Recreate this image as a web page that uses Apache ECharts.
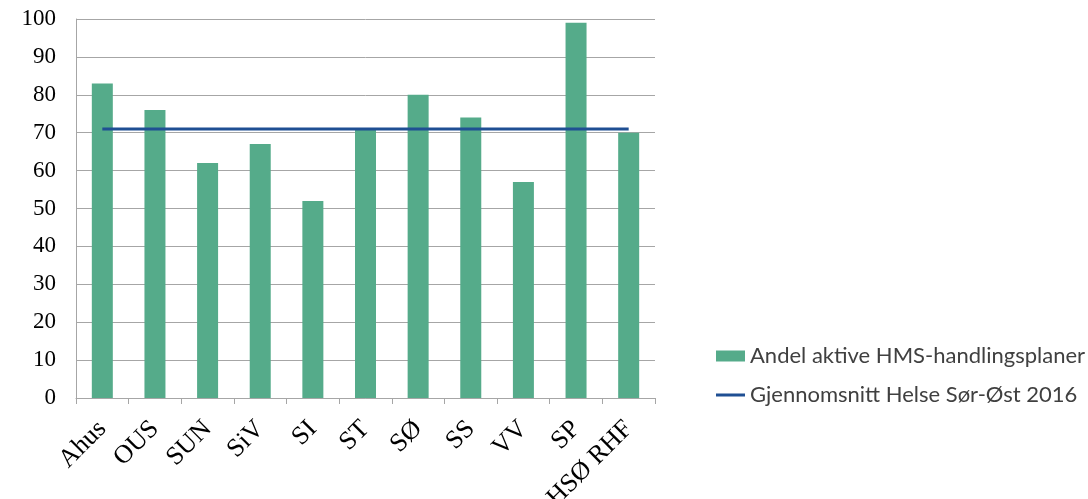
<!DOCTYPE html>
<html>
<head>
<meta charset="utf-8">
<script src="https://cdn.jsdelivr.net/npm/echarts@6/dist/echarts.min.js"></script>
<style>
  html, body { margin: 0; padding: 0; background: #fff; }
  #chart { width: 1088px; height: 499px; }
</style>
</head>
<body>
<div id="chart"></div>
<script>
// Helseforetak (categories) and share of active HMS action plans (%)
const categories = ['Ahus', 'OUS', 'SUN', 'SiV', 'SI', 'ST', 'SØ', 'SS', 'VV', 'SP', 'HSØ RHF'];
const andelAktive = [83, 76, 62, 67, 52, 71, 80, 74, 57, 99, 70];
// Regional average 2016, drawn as a flat line across all categories
const gjennomsnitt = 71;
const gjennomsnittLinje = categories.map(() => gjennomsnitt);
const yTicks = { min: 0, max: 100, interval: 10 };

const barName = 'Andel aktive HMS-handlingsplaner';
const lineName = 'Gjennomsnitt Helse Sør-Øst 2016';

const legendText = { fontFamily: 'Lato', fontSize: 22, color: '#404040' };

const chart = echarts.init(document.getElementById('chart'), null, { renderer: 'canvas' });
chart.setOption({
  animation: false,
  grid: {
    left: 76, right: 433, top: 19, bottom: 101,
    containLabel: false, outerBoundsMode: 'none'
  },
  legend: [
    {
      orient: 'vertical', left: 716, top: 345, padding: 0,
      itemWidth: 29, itemHeight: 11,
      icon: 'rect',
      data: [barName],
      textStyle: legendText
    },
    {
      orient: 'vertical', left: 716, top: 384, padding: 0,
      itemWidth: 29, itemHeight: 3,
      icon: 'rect',
      data: [lineName],
      textStyle: legendText
    }
  ],
  xAxis: {
    type: 'category',
    data: categories,
    boundaryGap: true,
    axisLine: { lineStyle: { color: '#a6a6a6', width: 1 } },
    axisTick: { show: true, alignWithLabel: false, length: 6, lineStyle: { color: '#a6a6a6' } },
    axisLabel: {
      rotate: 45, margin: 27, interval: 0,
      fontFamily: 'Liberation Serif', fontSize: 26, color: '#000'
    }
  },
  yAxis: {
    type: 'value',
    min: yTicks.min, max: yTicks.max, interval: yTicks.interval,
    axisLine: { show: true, lineStyle: { color: '#a6a6a6', width: 1 } },
    axisTick: { show: false },
    splitLine: { lineStyle: { color: '#a6a6a6', width: 1 } },
    axisLabel: { margin: 20, fontFamily: 'Liberation Serif', fontSize: 23, color: '#000' }
  },
  series: [
    {
      name: barName,
      type: 'bar',
      data: andelAktive,
      barWidth: 21,
      itemStyle: { color: '#55ab8a' }
    },
    {
      name: lineName,
      type: 'line',
      data: gjennomsnittLinje,
      symbol: 'none',
      lineStyle: { color: '#1f4f93', width: 3 },
      itemStyle: { color: '#1f4f93' },
      z: 5
    }
  ]
});
</script>
</body>
</html>
